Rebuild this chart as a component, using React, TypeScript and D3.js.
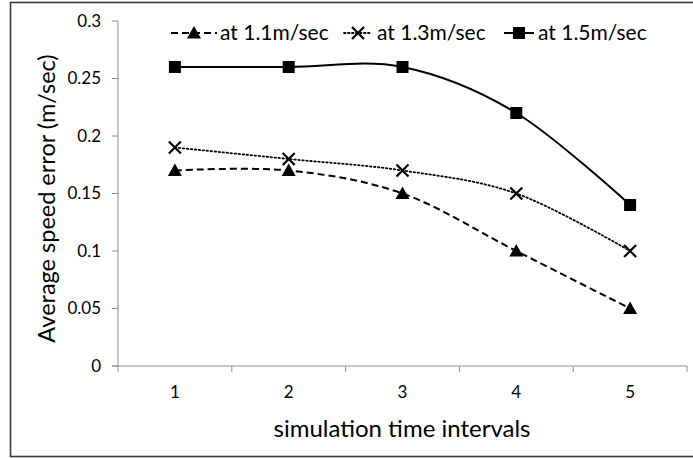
import React from "react";
import * as d3 from "d3";

const categories = [1, 2, 3, 4, 5];
const yTicks = [0, 0.05, 0.1, 0.15, 0.2, 0.25, 0.3];
const yTickLabels = ["0", "0.05", "0.1", "0.15", "0.2", "0.25", "0.3"];
const series11 = [0.17, 0.17, 0.15, 0.1, 0.05];
const series13 = [0.19, 0.18, 0.17, 0.15, 0.1];
const series15 = [0.26, 0.26, 0.26, 0.22, 0.14];
const seriesNames = ["at 1.1m/sec", "at 1.3m/sec", "at 1.5m/sec"];
const xTitle = "simulation time intervals";
const yTitle = "Average speed error (m/sec)";

const W = 693;
const H = 458;
const FONT = "Lato, 'Open Sans', sans-serif";

const plot = { left: 118, right: 687, top: 21, bottom: 366 };

function Marker({ kind, x, y }: { kind: string; x: number; y: number }) {
  if (kind === "tri") {
    const s = 7;
    return (
      <path
        d={`M${x},${y - s} L${x + s},${y + s * 0.8} L${x - s},${y + s * 0.8} Z`}
        fill="#000"
      />
    );
  }
  if (kind === "x") {
    const s = 6;
    return (
      <path
        d={`M${x - s},${y - s} L${x + s},${y + s} M${x - s},${y + s} L${x + s},${y - s}`}
        stroke="#000"
        strokeWidth={2.2}
        fill="none"
      />
    );
  }
  const s = 6;
  return <rect x={x - s} y={y - s} width={2 * s} height={2 * s} fill="#000" />;
}

export default function App() {
  const x = d3
    .scaleBand<number>()
    .domain(categories)
    .range([plot.left, plot.right])
    .paddingInner(0)
    .paddingOuter(0);
  const y = d3.scaleLinear().domain([0, 0.3]).range([plot.bottom, plot.top]);
  const cx = (c: number) => (x(c) as number) + x.bandwidth() / 2;

  const line = d3
    .line<number>()
    .x((_, i) => cx(categories[i]))
    .y((v) => y(v))
    .curve(d3.curveCardinal.tension(0));

  const seriesList = [
    { name: seriesNames[0], data: series11, marker: "tri", dash: "7,4", width: 2 },
    { name: seriesNames[1], data: series13, marker: "x", dash: "1.5,2.5", width: 1.8 },
    { name: seriesNames[2], data: series15, marker: "sq", dash: "", width: 2 },
  ];

  const legendSymbolX = [194, 358, 519];
  const legendSymbolHalf = [23, 14, 15];
  const legendTextX = [220, 377, 538];
  const legendY = 33;

  const boundaries = [...categories.map((c) => x(c) as number), plot.right];

  return (
    <svg
      width={W}
      height={H}
      style={{ position: "absolute", left: 0, top: 0, background: "#fff" }}
      fontFamily={FONT}
    >
      <rect x={0} y={0} width={W} height={H} fill="#fff" />
      <rect
        x={10.5}
        y={2.5}
        width={W + 20}
        height={454}
        fill="none"
        stroke="#3a3a3a"
        strokeWidth={1.6}
      />

      {/* axes */}
      <line x1={plot.left} x2={plot.left} y1={plot.top} y2={plot.bottom} stroke="#8c8c8c" strokeWidth={1} />
      <line x1={plot.left - 6} x2={plot.right} y1={plot.bottom} y2={plot.bottom} stroke="#8c8c8c" strokeWidth={1} />
      {yTicks.map((t, i) => (
        <g key={"yt" + i}>
          <line x1={plot.left - 6} x2={plot.left} y1={y(t)} y2={y(t)} stroke="#8c8c8c" />
          <text
            x={plot.left - 17}
            y={y(t)}
            dy="0.35em"
            textAnchor="end"
            fontSize={17}
            fill="#000"
          >
            {yTickLabels[i]}
          </text>
        </g>
      ))}
      {boundaries.map((b, i) => (
        <line key={"xb" + i} x1={b} x2={b} y1={plot.bottom} y2={plot.bottom + 6} stroke="#8c8c8c" />
      ))}
      {categories.map((c) => (
        <text key={"xl" + c} x={cx(c)} y={392} dy="0.35em" textAnchor="middle" fontSize={17} fill="#000">
          {c}
        </text>
      ))}

      <text x={402} y={429} dy="0.35em" textAnchor="middle" fontSize={24} fill="#000">
        {xTitle}
      </text>
      <text
        transform={`translate(47,${(plot.top + plot.bottom) / 2 + 5}) rotate(-90)`}
        textAnchor="middle"
        dy="0.35em"
        fontSize={23.5}
        fill="#000"
      >
        {yTitle}
      </text>

      {/* series */}
      {seriesList.map((s, si) => (
        <g key={"s" + si}>
          <path
            d={line(s.data) as string}
            fill="none"
            stroke="#000"
            strokeWidth={s.width}
            strokeDasharray={s.dash || undefined}
            strokeLinecap={s.marker === "x" ? "round" : "butt"}
          />
          {s.data.map((v, i) => (
            <Marker key={i} kind={s.marker} x={cx(categories[i])} y={y(v)} />
          ))}
        </g>
      ))}

      {/* legend */}
      {seriesList.map((s, si) => (
        <g key={"lg" + si}>
          <line
            x1={legendSymbolX[si] - legendSymbolHalf[si]}
            x2={legendSymbolX[si] + legendSymbolHalf[si]}
            y1={legendY}
            y2={legendY}
            stroke="#000"
            strokeWidth={s.width}
            strokeDasharray={s.dash || undefined}
            strokeLinecap={s.marker === "x" ? "round" : "butt"}
          />
          <Marker kind={s.marker} x={legendSymbolX[si]} y={legendY} />
          <text x={legendTextX[si]} y={legendY} dy="0.35em" fontSize={21} fill="#000">
            {s.name}
          </text>
        </g>
      ))}
    </svg>
  );
}
